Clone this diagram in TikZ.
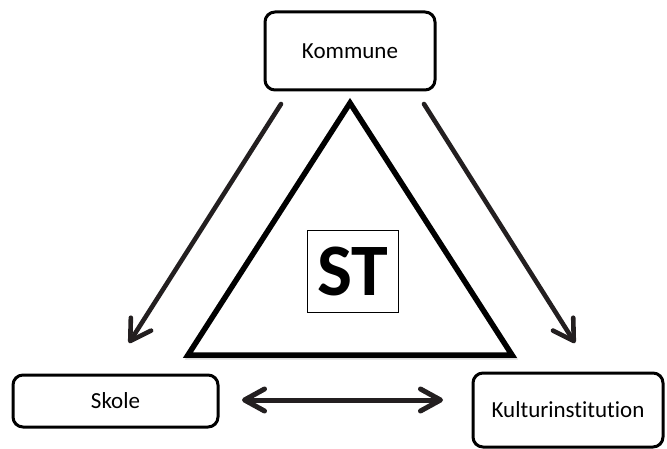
\documentclass[tikz,border=0pt]{standalone}
\usepackage{fontspec}
\setmainfont[Ligatures={NoCommon,NoRare}]{Carlito}
\usetikzlibrary{arrows.meta}
\definecolor{ink}{HTML}{231F20}
\tikzset{
  box/.style={draw=black, line width=3pt, rounded corners=10pt, fill=white, inner sep=0pt,
    font=\fontsize{23}{27}\selectfont},
  arr/.style={draw=ink, line width=4.6pt, line cap=round,
    -{Straight Barb[length=20pt,width=24pt,round]}},
  darr/.style={draw=ink, line width=5pt, line cap=round,
    {Straight Barb[length=20pt,width=22pt,round]}-{Straight Barb[length=20pt,width=22pt,round]}},
}
\begin{document}
\begin{tikzpicture}[x=1pt,y=-1pt]
\useasboundingbox (0,0) rectangle (667,449);
% triangle
\coordinate (apex) at (350,103);
\coordinate (bl) at (188,355);
\coordinate (br) at (512,355);
\draw[black!25, line width=5pt, line join=miter, opacity=0.6] ([shift={(1.5,2)}]apex) -- ([shift={(1.5,2)}]bl) -- ([shift={(1.5,2)}]br) -- cycle;
\draw[black, line width=5.5pt, line join=miter, fill=white] (apex) -- (bl) -- (br) -- cycle;
\node[draw=black, line width=0.8pt, minimum width=91pt, minimum height=82pt, inner sep=0pt,
  font=\fontsize{74}{74}\selectfont\bfseries] (st) at (352.5,271) {ST};
% boxes
\node[box, minimum width=170pt, minimum height=78pt] (kommune) at (350,51) {Kommune};
\node[box, minimum width=205pt, minimum height=52pt] (skole) at (115.5,401) {Skole};
\node[box, minimum width=190pt, minimum height=74pt] (kultur) at (568,410) {Kulturinstitution};
% arrows
\coordinate (a1s) at (281,104);
\coordinate (a1e) at (129,343);
\coordinate (a2s) at (424,104);
\coordinate (a2e) at (575,343);
\coordinate (a3s) at (242,400);
\coordinate (a3e) at (443,400);
\draw[arr] (a1s) -- (a1e);
\draw[arr] (a2s) -- (a2e);
\draw[darr] (a3s) -- (a3e);
\end{tikzpicture}
\end{document}
